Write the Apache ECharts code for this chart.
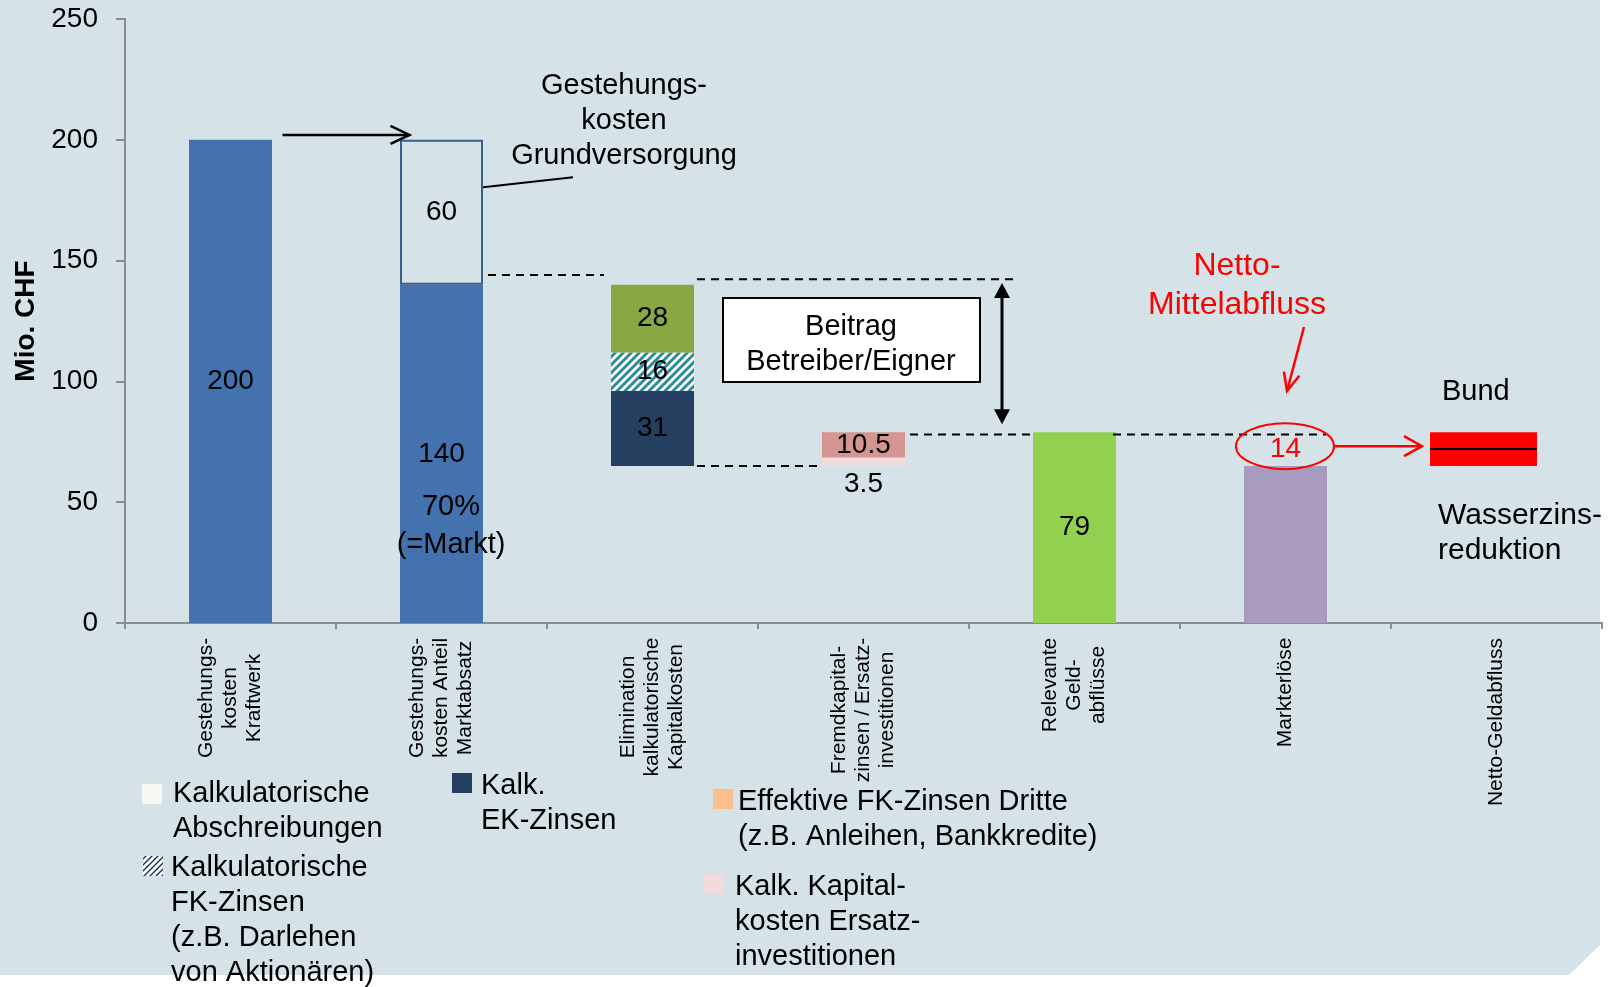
<!DOCTYPE html>
<html>
<head>
<meta charset="utf-8">
<title>Netto-Geldabfluss</title>
<script src="https://cdn.jsdelivr.net/npm/echarts@6/dist/echarts.min.js"></script>
<style>
  html, body { margin: 0; padding: 0; background: #fff; }
  #main { width: 1612px; height: 987px; }
</style>
</head>
<body>
<div id="main"></div>
<script>
var FONT = '"Liberation Sans", Arial, sans-serif';

// categories (x axis)
var categories = [
  'Gestehungs-\nkosten\nKraftwerk',
  'Gestehungs-\nkosten Anteil\nMarktabsatz',
  'Elimination\nkalkulatorische\nKapitalkosten',
  'Fremdkapital-\nzinsen / Ersatz-\ninvestitionen',
  'Relevante\nGeld-\nabflüsse',
  'Markterlöse',
  'Netto-Geldabfluss'
];

// series values, Mio. CHF
var baseValues           = ['-', '-', 65, 65, '-', '-', '-'];
var kostenValues         = [200, 140, '-', '-', '-', '-', '-'];
var grundversorgungValues = ['-', 60, '-', '-', '-', '-', '-'];
var ekZinsenValues       = ['-', '-', 31, '-', '-', '-', '-'];
var fkZinsenKalkValues   = ['-', '-', 16, '-', '-', '-', '-'];
var abschreibungValues   = ['-', '-', 28, '-', '-', '-', '-'];
var ersatzValues         = ['-', '-', '-', 3.5, '-', '-', '-'];
var fkZinsenDritteValues = ['-', '-', '-', 10.5, '-', '-', '-'];
var geldabflussValues    = ['-', '-', '-', '-', 79, '-', '-'];
var markterloeseValues   = ['-', '-', '-', '-', '-', 65, '-'];
var nettoMittelValues    = ['-', '-', '-', '-', '-', 14, '-'];
var wasserzinsBase       = ['-', '-', '-', '-', '-', '-', 65];
var wasserzinsValues     = ['-', '-', '-', '-', '-', '-', 14];

var yMin = 0, yMax = 250, yStep = 50;

function hatch(fg, bg, size, lw) {
  var c = document.createElement('canvas');
  c.width = c.height = size;
  var g = c.getContext('2d');
  g.fillStyle = bg;
  g.fillRect(0, 0, size, size);
  g.strokeStyle = fg;
  g.lineWidth = lw;
  g.beginPath();
  g.moveTo(-1, size + 1); g.lineTo(size + 1, -1);
  g.moveTo(-2, 2); g.lineTo(2, -2);
  g.moveTo(size - 2, size + 2); g.lineTo(size + 2, size - 2);
  g.stroke();
  return c;
}
var barHatch = hatch('#2B8C9A', '#FFFFFF', 8, 3);
var legendHatch = hatch('#1F3A5F', '#FFFFFF', 6, 1.5);

// x labels: lines centred inside each rotated block
var labelSize = 21;
var mctx = document.createElement('canvas').getContext('2d');
mctx.font = labelSize + 'px ' + FONT;
var xRich = {};
categories.forEach(function (c, i) {
  var w = 0;
  c.split('\n').forEach(function (s) { w = Math.max(w, mctx.measureText(s).width); });
  xRich['c' + i] = { width: Math.ceil(w) + 1, align: 'center', fontSize: labelSize, lineHeight: 24, color: '#000', fontFamily: FONT };
});

var barLabel = { show: true, position: 'inside', fontSize: 28, color: '#000', fontFamily: FONT };

function stackBar(name, data, color, extra) {
  var s = {
    name: name, type: 'bar', stack: 'a', barWidth: 83, data: data,
    itemStyle: { color: color },
    label: barLabel,
    emphasis: { disabled: true }
  };
  if (extra) Object.keys(extra).forEach(function (k) { s[k] = extra[k]; });
  return s;
}

var wasserzinsData = [];
wasserzinsValues.forEach(function (v, i) {
  if (v !== '-') wasserzinsData.push([i, wasserzinsBase[i], wasserzinsBase[i] + v]);
});

var chart = echarts.init(document.getElementById('main'));
var option = {
  backgroundColor: '#FFFFFF',
  animation: false,
  textStyle: { fontFamily: FONT },
  grid: { left: 125, right: 10, top: 19, bottom: 364, containLabel: false },
  xAxis: {
    type: 'category',
    data: categories,
    axisLine: { lineStyle: { color: '#8C8C8C', width: 2 } },
    axisTick: { show: true, length: 6, lineStyle: { color: '#8C8C8C', width: 2 } },
    axisLabel: {
      interval: 0, rotate: 90, margin: 14,
      formatter: function (value, index) {
        return value.split('\n').map(function (s) { return '{c' + index + '|' + s + '}'; }).join('\n');
      },
      rich: xRich
    }
  },
  yAxis: {
    type: 'value', min: yMin, max: yMax, interval: yStep,
    name: 'Mio. CHF', nameLocation: 'middle', nameGap: 84,
    nameTextStyle: { fontSize: 28, fontWeight: 'bold', color: '#000', fontFamily: FONT },
    axisLine: { show: true, lineStyle: { color: '#8C8C8C', width: 2 } },
    axisTick: { show: true, length: 9, lineStyle: { color: '#8C8C8C', width: 2 } },
    axisLabel: { fontSize: 28, color: '#000', margin: 27, fontFamily: FONT },
    splitLine: { show: false }
  },
  series: [
    stackBar('Basis', baseValues, 'rgba(0,0,0,0)', { label: { show: false } }),
    stackBar('Gestehungskosten', kostenValues, '#4472AE'),
    stackBar('Grundversorgung', grundversorgungValues, 'rgba(0,0,0,0)', {
      itemStyle: { color: 'rgba(0,0,0,0)', borderColor: '#3A5E8C', borderWidth: 2 }
    }),
    stackBar('Kalk. EK-Zinsen', ekZinsenValues, '#243F60'),
    stackBar('Kalkulatorische FK-Zinsen', fkZinsenKalkValues, { image: barHatch, repeat: 'repeat' }),
    stackBar('Kalkulatorische Abschreibungen', abschreibungValues, '#88A843'),
    stackBar('Kalk. Kapitalkosten Ersatzinvestitionen', ersatzValues, '#F2DCDB', {
      label: { show: true, position: 'bottom', distance: 4, fontSize: 28, color: '#000', fontFamily: FONT }
    }),
    stackBar('Effektive FK-Zinsen Dritte', fkZinsenDritteValues, '#D59593'),
    stackBar('Relevante Geldabflüsse', geldabflussValues, '#92D050'),
    stackBar('Markterlöse', markterloeseValues, '#A99BBD', { label: { show: false } }),
    stackBar('Netto-Mittelabfluss', nettoMittelValues, 'rgba(0,0,0,0)', {
      label: { show: true, position: 'inside', fontSize: 28, color: '#FF0000', fontFamily: FONT }
    }),
    {
      name: 'Wasserzinsreduktion', type: 'custom',
      data: wasserzinsData,
      encode: { x: 0, y: [1, 2] },
      renderItem: function (params, api) {
        var lo = api.coord([api.value(0), api.value(1)]);
        var hi = api.coord([api.value(0), api.value(2)]);
        var w = api.size([1, 0])[0] * 0.507;
        var x = lo[0] - w / 2 - 13;
        var mid = (lo[1] + hi[1]) / 2;
        return {
          type: 'group',
          children: [
            { type: 'rect', shape: { x: x, y: hi[1], width: w, height: lo[1] - hi[1] }, style: { fill: '#FF0000' } },
            { type: 'line', shape: { x1: x, y1: mid, x2: x + w, y2: mid }, style: { stroke: '#000', lineWidth: 2 } }
          ]
        };
      }
    }
  ]
};
chart.setOption(option);

// annotations, placed through the axes
function P(i, dx, v) {
  var p = chart.convertToPixel({ gridIndex: 0 }, [i, v]);
  return [p[0] + dx, p[1]];
}
function txt(p, text, opts) {
  opts = opts || {};
  return {
    type: 'text', x: p[0], y: p[1], z: 50,
    style: {
      text: text, fill: opts.color || '#000', fontSize: opts.size || 29, fontFamily: FONT,
      align: opts.align || 'center', verticalAlign: 'middle', lineHeight: opts.lh || 35
    }
  };
}
function line(a, b, color, lw, dash) {
  return {
    type: 'line', z: 40,
    shape: { x1: a[0], y1: a[1], x2: b[0], y2: b[1] },
    style: { stroke: color, lineWidth: lw, lineDash: dash || null }
  };
}
function openArrow(a, b, color, len, half, lw) {
  var ang = Math.atan2(b[1] - a[1], b[0] - a[0]);
  var cs = Math.cos(ang), sn = Math.sin(ang);
  var p1 = [b[0] - len * cs + half * sn, b[1] - len * sn - half * cs];
  var p2 = [b[0] - len * cs - half * sn, b[1] - len * sn + half * cs];
  return [
    line(a, b, color, lw),
    { type: 'polyline', z: 40, shape: { points: [p1, b, p2] }, style: { stroke: color, lineWidth: lw, fill: null } }
  ];
}
function filledHead(tip, dir, len, half) {
  return {
    type: 'polygon', z: 41,
    shape: { points: [tip, [tip[0] - half, tip[1] - dir * len], [tip[0] + half, tip[1] - dir * len]] },
    style: { fill: '#000' }
  };
}

var g = [];
g.push({
  type: 'polygon', z: -100, silent: true,
  shape: { points: [[0, 0], [1600, 0], [1600, 945], [1569, 975], [0, 975]] },
  style: { fill: '#D5E3E8' }
});

g = g.concat(openArrow(P(0, 52, 202), P(1, -32, 202), '#000', 19, 9, 2.5));
g.push(txt(P(1, 182.5, 207.7), 'Gestehungs-\nkosten\nGrundversorgung'));
g.push(line(P(1, 41.5, 180.4), P(1, 131.5, 184.5), '#000', 2));

var dash = [8, 6];
g.push(line(P(1, 46.5, 144), P(2, -48.5, 144), '#000', 2, dash));
g.push(line(P(2, 44.5, 142.3), P(3, 149.5, 142.3), '#000', 2, dash));
g.push(line(P(2, 44.5, 65), P(3, -44.5, 65), '#000', 2, dash));
g.push(line(P(3, 46.5, 78), P(4, -43.5, 78), '#000', 2, dash));
g.push(line(P(4, 38.5, 78), P(5, 40.5, 78), '#000', 2, dash));

var dTop = P(3, 138.5, 140.7), dBot = P(3, 138.5, 82.3);
g.push(line([dTop[0], dTop[1] + 10], [dBot[0], dBot[1] - 10], '#000', 3));
g.push(filledHead(dTop, -1, 15, 8));
g.push(filledHead(dBot, 1, 15, 8));

var b1 = P(2, 70.5, 134.5), b2 = P(3, 116.5, 99.7);
g.push({
  type: 'rect', z: 40,
  shape: { x: b1[0], y: b1[1], width: b2[0] - b1[0], height: b2[1] - b1[1] },
  style: { fill: '#FFFFFF', stroke: '#000', lineWidth: 2 }
});
g.push(txt(P(3, -12.5, 115.2), 'Beitrag\nBetreiber/Eigner'));

g.push(txt(P(5, -48.5, 139.6), 'Netto-\nMittelabfluss', { color: '#FF0000', size: 32, lh: 39 }));
g = g.concat(openArrow(P(5, 18.5, 122.5), P(5, 1.5, 96), '#FF0000', 18, 8, 2.5));
var ec = P(5, -0.5, 73.2);
g.push({
  type: 'ellipse', z: 40,
  shape: { cx: ec[0], cy: ec[1], rx: 49, ry: 23 },
  style: { fill: null, stroke: '#FF0000', lineWidth: 2 }
});
g = g.concat(openArrow(P(5, 49.5, 73.2), P(6, -74.5, 73.2), '#FF0000', 18, 10, 2.5));

g.push(txt(P(6, -54.5, 95.6), 'Bund', { align: 'left' }));
g.push(txt(P(6, -58.5, 37), 'Wasserzins-\nreduktion', { align: 'left', size: 30 }));
g.push(txt(P(1, 9.5, 40.1), '70%\n(=Markt)', { lh: 38 }));

// legend (drawn by hand like the original slide)
var legendItems = [
  { x: 142, y: 784, fill: '#F6F6F2', text: 'Kalkulatorische\nAbschreibungen', tx: 173, ty: 811 },
  { x: 143, y: 856, fill: { image: legendHatch, repeat: 'repeat' }, text: 'Kalkulatorische\nFK-Zinsen\n(z.B. Darlehen\nvon Aktionären)', tx: 171, ty: 920 },
  { x: 452, y: 773, fill: '#243F60', text: 'Kalk.\nEK-Zinsen', tx: 481, ty: 803 },
  { x: 713, y: 789, fill: '#FAC090', text: 'Effektive FK-Zinsen Dritte\n(z.B. Anleihen, Bankkredite)', tx: 738, ty: 819 },
  { x: 703, y: 874, fill: '#F2DCDB', text: 'Kalk. Kapital-\nkosten Ersatz-\ninvestitionen', tx: 735, ty: 922 }
];
legendItems.forEach(function (it) {
  g.push({ type: 'rect', z: 40, shape: { x: it.x, y: it.y, width: 20, height: 20 }, style: { fill: it.fill } });
  g.push(txt([it.tx, it.ty], it.text, { align: 'left' }));
});

chart.setOption({ graphic: g });
</script>
</body>
</html>
